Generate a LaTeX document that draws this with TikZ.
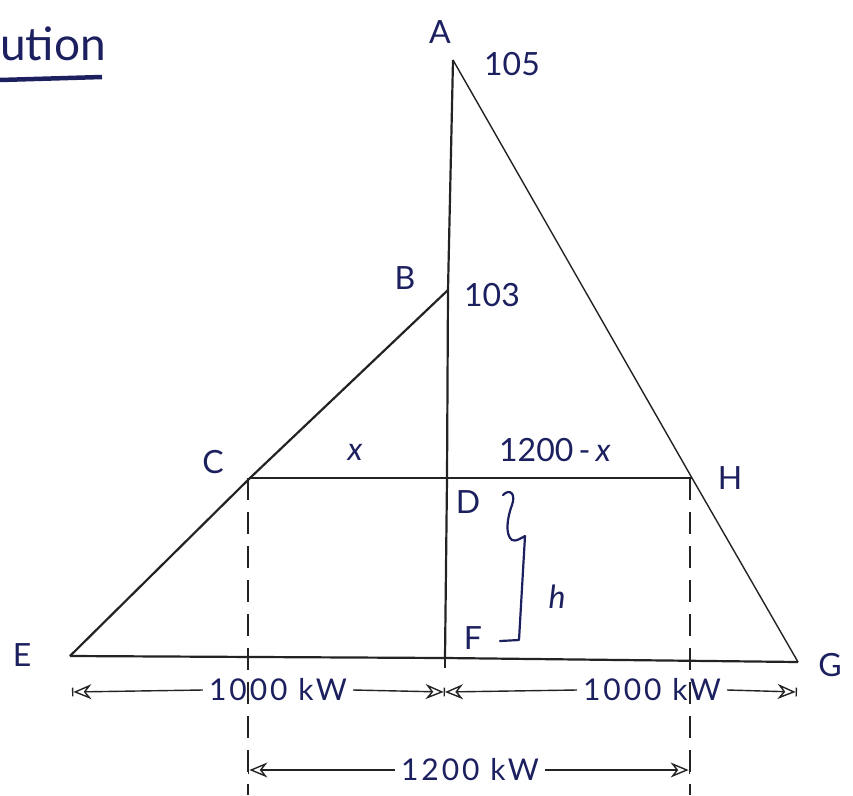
\documentclass[tikz,border=0pt]{standalone}
\usepackage{fontspec}
\setmainfont{Lato}
\usetikzlibrary{arrows.meta}
\definecolor{ink}{RGB}{28,32,95}
\definecolor{pencil}{RGB}{35,35,35}
\begin{document}
\begin{tikzpicture}[x=1pt,y=-1pt,
  lbl/.style={text=ink,font=\fontsize{32}{34}\selectfont,inner sep=0pt},
  dimtxt/.style={text=ink,font=\fontsize{30}{32}\selectfont\addfontfeatures{LetterSpace=10},inner ysep=0pt,inner xsep=6pt},
  edge/.style={draw=pencil,line width=2.2pt},
  thinedge/.style={draw=pencil,line width=1.4pt},
  guide/.style={draw=pencil,line width=1.3pt,dash pattern=on 22pt off 12pt},
  dim/.style={draw=pencil,line width=1.4pt,>={Stealth[length=18pt,width=15pt,open]}},
  brace/.style={draw=ink,line width=2.2pt,line cap=round,line join=round}]
\useasboundingbox (0,0) rectangle (853,795);
% points
\coordinate (A) at (453,60);
\coordinate (B) at (448,290);
\coordinate (C) at (250,478);
\coordinate (D) at (447,478);
\coordinate (H) at (692,478);
\coordinate (E) at (70,656);
\coordinate (F) at (445,658);
\coordinate (G) at (798,662);
\coordinate (Ft) at (445,650);
\coordinate (Fb) at (445,668);
\coordinate (Cg) at (248,478);
\coordinate (Cb) at (248,795);
\coordinate (Hg) at (690,478);
\coordinate (Hb) at (690,795);
% main figure
\draw[edge] (A) -- (B) -- (D) -- (F);
\draw[edge] (B) -- (C) -- (E);
\draw[thinedge] (A) -- (H) -- (G);
\draw[edge] (C) -- (D) -- (H);
\draw[edge] (E) -- (F) -- (G);
\draw[edge] (Ft) -- (Fb);
\draw[guide] (Cg) -- (Cb);
\draw[guide] (Hg) -- (Hb);
% labels
\node[lbl] (tA) at (440,32) {A};
\node[lbl] (t105) at (512,64) {105};
\node[lbl] (tB) at (405,278) {B};
\node[lbl] (t103) at (492,295) {103};
\node[lbl] (tC) at (213,462) {C};
\node[lbl] (tx) at (355,452) {\textit{x}};
\node[lbl] (tdx) at (555,450) {1200\,-\,\textit{x}};
\node[lbl] (tH) at (730,478) {H};
\node[lbl] (tD) at (468,502) {D};
\node[lbl] (tF) at (473,638) {F};
\node[lbl] (th) at (557,597) {\textit{h}};
\node[lbl] (tE) at (22,655) {E};
\node[lbl] (tG) at (830,665) {G};
% heading
\node[lbl,font=\fontsize{46}{48}\selectfont,anchor=west] (head) at (0,44) {ution};
\coordinate (U1) at (0,80);
\coordinate (U2) at (102,77);
\draw[ink,line width=4.5pt] (U1) -- (U2);
% brace for h
\draw[brace] (503,495) .. controls (510,488) and (516,494) .. (512,505)
  .. controls (507,518) and (505,535) .. (512,540)
  .. controls (516,542) and (521,538) .. (525,536) -- (519,640) -- (500,641);
% dimension row 1
\coordinate (L1) at (72,692);
\coordinate (M1) at (445,692);
\coordinate (R1) at (797,692);
\node[dimtxt] (d1) at (278,690) {1000 kW};
\node[dimtxt] (d2) at (652,690) {1000 kW};
\draw[dim,|<-] (L1) -- (d1.west);
\draw[dim,->|] (d1.east) -- (M1);
\draw[dim,<-] (M1) -- (d2.west);
\draw[dim,->|] (d2.east) -- (R1);
% dimension row 2
\coordinate (L2) at (248,770);
\coordinate (R2) at (690,770);
\node[dimtxt] (d3) at (470,770) {1200 kW};
\draw[dim,|<-] (L2) -- (d3.west);
\draw[dim,->|] (d3.east) -- (R2);
\end{tikzpicture}
\end{document}
